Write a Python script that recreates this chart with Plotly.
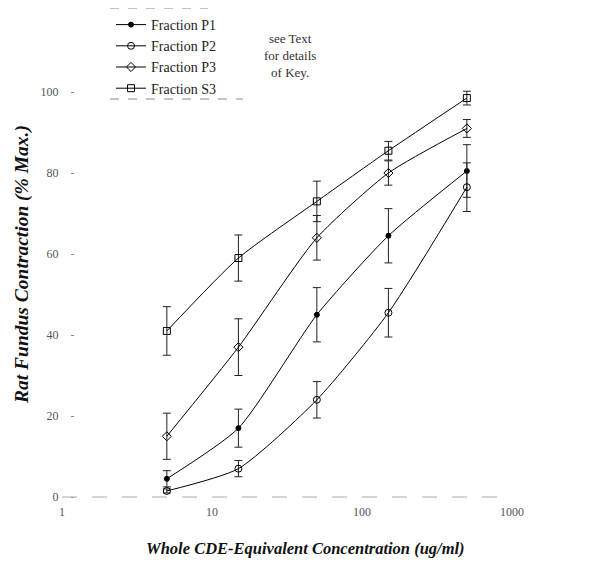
import plotly.graph_objects as go

conc = [5, 15, 50, 150, 500]
series_names = ["Fraction P1", "Fraction P2", "Fraction P3", "Fraction S3"]
p1 = [4.5, 17, 45, 64.5, 80.5]
p1_err = [2, 4.7, 6.7, 6.7, 6.5]
p2 = [1.5, 7, 24, 45.5, 76.5]
p2_err = [0.5, 2, 4.5, 6, 6]
p3 = [15, 37, 64, 80, 91]
p3_err = [5.7, 7, 5.5, 3, 2.2]
s3 = [41, 59, 73, 85.5, 98.5]
s3_err = [6, 5.7, 5, 2.3, 1.7]
x_ticks = [1, 10, 100, 1000]
y_ticks = [0, 20, 40, 60, 80, 100]

values = [p1, p2, p3, s3]
errors = [p1_err, p2_err, p3_err, s3_err]
symbols = ["circle", "circle-open", "diamond-open", "square-open"]
sizes = [5, 7, 7, 7]

fig = go.Figure()
for name, v, e, sym, sz in zip(series_names, values, errors, symbols, sizes):
    fig.add_trace(go.Scatter(
        x=conc, y=v, name=name, mode="lines+markers",
        line=dict(color="black", width=1, shape="spline", smoothing=0.6),
        marker=dict(symbol=sym, size=sz, color="black",
                    line=dict(color="black", width=1)),
        error_y=dict(type="data", array=e, color="#222", thickness=1, width=4),
    ))

serif = "Liberation Serif, Times New Roman, serif"
L, R, T, B = 54, 107, 64, 70
PW, PH = 611 - L - R, 565 - T - B


def px(xp):
    return (xp - L) / PW


def py(yp):
    return (565 - B - yp) / PH


fig.update_layout(
    width=611, height=565,
    margin=dict(l=L, r=R, t=T, b=B, autoexpand=False),
    plot_bgcolor="white", paper_bgcolor="white",
    font=dict(family=serif, color="#222", size=12),
    showlegend=True,
    legend=dict(
        x=px(103), y=py(1), xanchor="left", yanchor="top",
        bgcolor="rgba(255,255,255,0)", borderwidth=0,
        font=dict(family=serif, size=14, color="#222"),
        tracegroupgap=0, itemwidth=30,
    ),
    xaxis=dict(
        type="log", range=[0, 3.0], tickvals=x_ticks,
        ticktext=[str(t) for t in x_ticks],
        showgrid=False, showline=False, zeroline=False, ticks="",
        tickfont=dict(family=serif, size=12, color="#555"),
    ),
    yaxis=dict(
        range=[-1.48, 104.94], tickvals=y_ticks,
        showgrid=False, showline=False, zeroline=False,
        ticks="outside", ticklen=3, tickcolor="#888",
        anchor="free", position=px(66),
        ticklabelstandoff=10,
        tickfont=dict(family=serif, size=12, color="#555"),
    ),
    shapes=[
        dict(type="line", xref="paper", yref="y", x0=0, x1=1, y0=0, y1=0,
             line=dict(color="#aaa", width=1, dash="longdash")),
        dict(type="line", xref="paper", yref="paper",
             x0=px(102), x1=px(200), y0=py(0), y1=py(0),
             line=dict(color="#888", width=1, dash="dash")),
        dict(type="line", xref="paper", yref="paper",
             x0=px(102), x1=px(235), y0=py(91), y1=py(91),
             line=dict(color="#888", width=1, dash="dash")),
    ],
    annotations=[
        dict(text="see Text<br>for details<br>of Key.", xref="paper", yref="paper",
             x=px(282), y=py(47), showarrow=False, align="center",
             yanchor="middle", font=dict(family=serif, size=13, color="#333")),
        dict(text="Whole CDE-Equivalent Concentration (ug/ml)", xref="paper", yref="paper",
             x=px(297), y=py(540), showarrow=False,
             xanchor="center", yanchor="middle",
             font=dict(family=serif, size=16.5, style="italic", weight="bold", color="#111")),
        dict(text="Rat Fundus Contraction (% Max.)", xref="paper", yref="paper",
             x=px(14), y=py(257), showarrow=False, textangle=-90,
             xanchor="center", yanchor="middle",
             font=dict(family=serif, size=19.5, style="italic", weight="bold", color="#111")),
    ],
)
fig.write_html("out.html")
